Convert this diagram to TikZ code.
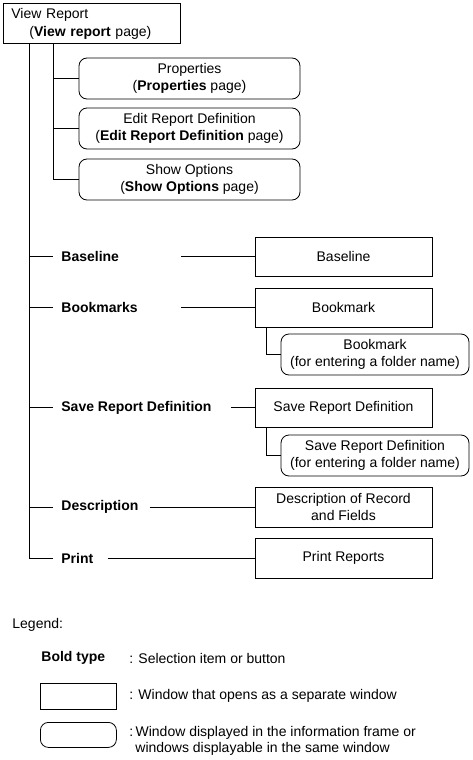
\documentclass[tikz,border=0pt]{standalone}
\usepackage{fontspec}
\setmainfont{Liberation Sans}
\usetikzlibrary{calc}
\tikzset{
  win/.style={draw, minimum width=177pt, minimum height=39pt, align=center, inner sep=0pt},
  pane/.style={draw, rounded corners=8pt, minimum height=41pt, align=center, inner sep=0pt},
  item/.style={anchor=west, inner sep=0pt, font=\fontsize{14}{17}\selectfont\bfseries},
  note/.style={anchor=west, inner sep=0pt, align=left},
}

\begin{document}
\begin{tikzpicture}[x=1pt, y=-1pt, line width=0.8pt, font=\fontsize{14}{17}\selectfont]
    \useasboundingbox (0, 0) rectangle (472, 760);

    \node[draw, anchor=north west, minimum height=40pt, text width=161pt, inner xsep=8pt, inner ysep=0pt, align=left,
          font=\fontsize{14}{18}\selectfont] (vr) at (3, 3)
        {View Report\\\hspace*{18pt}(\textbf{View report} page)};
    \coordinate (trunk) at ([xshift=26pt]vr.south west);
    \coordinate (subtrunk) at ([xshift=50pt]vr.south west);

    % pages in the same frame
    \node[pane, minimum width=221pt] (prop) at (189.5, 78.5) {Properties\\(\textbf{Properties} page)};
    \node[pane, minimum width=221pt] (edit) at (189.5, 128.5) {Edit Report Definition\\(\textbf{Edit Report Definition} page)};
    \node[pane, minimum width=221pt] (show) at (189.5, 179.5) {Show Options\\(\textbf{Show Options} page)};

    \foreach \p in {prop, edit, show}
        \draw (subtrunk) |- (\p.west);

    % selection items
    \node[item] (blab) at (61, 256.5) {Baseline};
    \node[item] (bmlab) at (61, 307.5) {Bookmarks};
    \node[item] (svlab) at (61, 407.5) {Save Report Definition};
    \node[item] (dslab) at (61, 507) {Description};
    \node[item] (prlab) at (61, 558) {Print};

    \node[win] (bbox) at (343.5, 256.5) {Baseline};
    \node[win] (bmbox) at (343.5, 307.5) {Bookmark};
    \node[pane, minimum width=188pt] (bmsub) at (375, 354.5) {Bookmark\\(for entering a folder name)};
    \node[win] (svbox) at (343.5, 407.5) {Save Report Definition};
    \node[pane, minimum width=188pt] (svsub) at (375, 455.5) {Save Report Definition\\(for entering a folder name)};
    \node[win, minimum height=40pt] (dsbox) at (343.5, 507) {Description of Record\\and Fields};
    \node[win, minimum height=40pt] (prbox) at (343.5, 558) {Print Reports};

    \foreach \l in {blab, bmlab, svlab, dslab}
        \draw[shorten >=8pt] (\l.west -| trunk) -- (\l.west);
    \draw[shorten >=8pt] (trunk) |- (prlab.west);

    \foreach \a/\b/\g in {blab/bbox/62, bmlab/bmbox/43, svlab/svbox/19, dslab/dsbox/11, prlab/prbox/14}
        \draw[shorten <=\g pt] (\a.east) -- (\b.west);

    \draw ([xshift=12pt]bmbox.south west) |- (bmsub.west);
    \draw ([xshift=12pt]svbox.south west) |- (svsub.west);

    %%%

    \node[note] (leg) at (12, 625) {Legend:};
    \node[item] (lbold) at (41, 658) {Bold type};
    \node[note] (lboldtxt) at (129, 658) {: Selection item or button};
    \node[draw, anchor=north west, minimum width=76pt, minimum height=26pt, inner sep=0pt] (lrect) at (40, 683) {};
    \node[note] (lrecttxt) at (129, 696) {: Window that opens as a separate window};
    \node[draw, anchor=north west, rounded corners=8pt, minimum width=76pt, minimum height=25pt, inner sep=0pt] (lround) at (40, 722) {};
    \node[note, font=\fontsize{14}{16}\selectfont] (lroundtxt) at (129, 741)
        {:\,Window displayed in the information frame or\\\hspace*{6pt}windows displayable in the same window};
\end{tikzpicture}
\end{document}
